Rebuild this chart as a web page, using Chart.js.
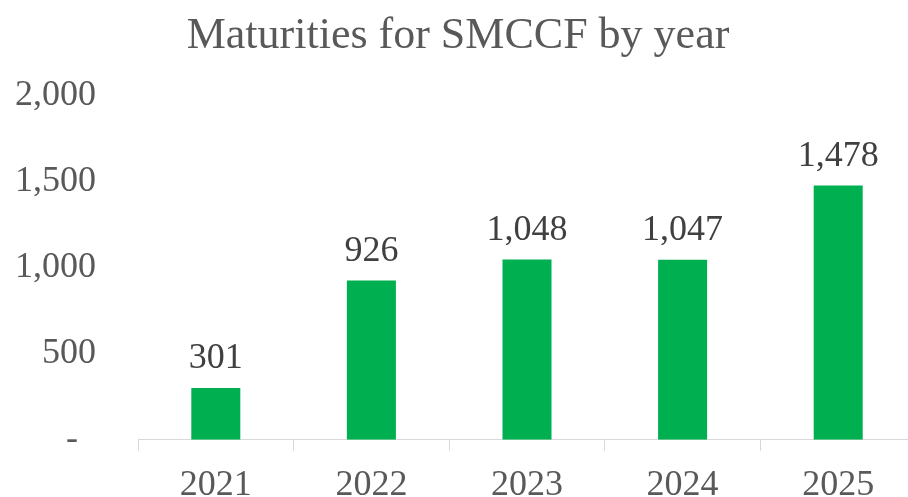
<!DOCTYPE html>
<html>
<head>
<meta charset="utf-8">
<script src="https://cdn.jsdelivr.net/npm/chart.js@4/dist/chart.umd.min.js"></script>
<style>
    html, body { margin: 0; padding: 0; background: #fff; overflow: hidden; }
    #wrap { width: 908px; height: 497px; overflow: hidden; position: relative; }
    #box { width: 935px; height: 520px; position: absolute; left: 0; top: 0; }
</style>
</head>
<body>
<div id="wrap"><div id="box"><canvas id="myChart"></canvas></div></div>
<script>
var years = ['2021', '2022', '2023', '2024', '2025'];
var maturities = [301, 926, 1048, 1047, 1478];
var yTicks = [0, 500, 1000, 1500, 2000];

var serif = '"Liberation Serif", "Times New Roman", serif';

function fmt(v) {
    if (v === 0) {
        return '-  ';
    }
    return v.toLocaleString('en-US');
}

// draws the value above each bar
var barLabels = {
    id: 'barLabels',
    afterDatasetsDraw: function (chart) {
        var ctx = chart.ctx;
        var meta = chart.getDatasetMeta(0);
        ctx.save();
        ctx.font = '36px ' + serif;
        ctx.fillStyle = '#404040';
        ctx.textAlign = 'center';
        ctx.textBaseline = 'alphabetic';
        meta.data.forEach(function (bar, i) {
            ctx.fillText(fmt(chart.data.datasets[0].data[i]), bar.x, bar.y - 20);
        });
        ctx.restore();
    }
};

(function (window) {
    var ctx = document.getElementById('myChart');

    new Chart(ctx.getContext('2d'), {
        type: 'bar',
        data: {
            labels: years,
            datasets: [
                {
                    label: 'Maturities',
                    data: maturities,
                    backgroundColor: '#00B050',
                    categoryPercentage: 1,
                    barPercentage: 0.315
                }
            ]
        },
        options: {
            responsive: true,
            maintainAspectRatio: false,
            animation: false,
            layout: { padding: { left: 0, right: 19, top: 0, bottom: 0 } },
            plugins: {
                legend: { display: false },
                tooltip: { enabled: false },
                title: {
                    display: true,
                    text: 'Maturities for SMCCF by year',
                    color: '#595959',
                    font: { family: serif, size: 44, weight: 'normal' },
                    padding: { top: 10, bottom: 33 }
                }
            },
            scales: {
                x: {
                    grid: {
                        offset: true,
                        drawOnChartArea: false,
                        drawTicks: true,
                        tickLength: 11,
                        color: '#D9D9D9'
                    },
                    border: { display: true, color: '#D9D9D9', width: 1 },
                    ticks: {
                        color: '#595959',
                        font: { family: serif, size: 36 },
                        padding: 13,
                        maxRotation: 0
                    }
                },
                y: {
                    min: 0,
                    max: 2000,
                    afterBuildTicks: function (scale) {
                        scale.ticks = yTicks.map(function (v) { return { value: v }; });
                    },
                    afterFit: function (scale) {
                        scale.width = 138;
                    },
                    grid: { display: false },
                    border: { display: false },
                    ticks: {
                        color: '#595959',
                        font: { family: serif, size: 36 },
                        padding: 34,
                        callback: function (v) { return fmt(v); }
                    }
                }
            }
        },
        plugins: [barLabels]
    });
})(window);
</script>
</body>
</html>
